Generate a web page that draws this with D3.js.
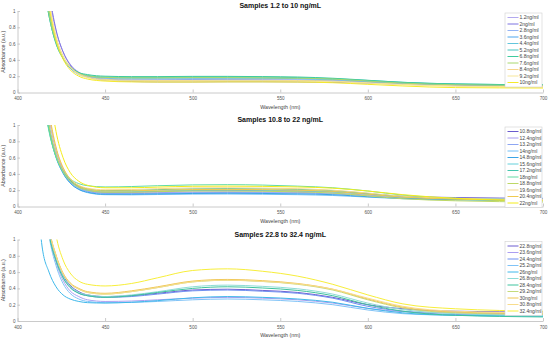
<!DOCTYPE html>
<html>
<head>
<meta charset="utf-8">
<script src="https://cdn.jsdelivr.net/npm/d3@7"></script>
<style>
  body { margin: 0; background: #fff; }
  svg { display: block; font-family: "Liberation Sans", Arial, sans-serif; }
</style>
</head>
<body>
<svg id="chart"></svg>
<script>
const width = 550;
const height = 339;

const wavelengths = [410, 414, 418, 422, 426, 430, 435, 440, 450, 465, 480, 500, 520, 540, 560, 580, 600, 620, 650, 700];
const xTicks = [400, 450, 500, 550, 600, 650, 700];
const yTicks = [0, 0.2, 0.4, 0.6, 0.8, 1];

const titles = ["Samples 1.2 to 10 ng/mL", "Samples 10.8 to 22 ng/mL", "Samples 22.8 to 32.4 ng/mL"];

// panel 1
const labels1 = ["1.2ng/ml", "2ng/ml", "2.8ng/ml", "3.6ng/ml", "4.4ng/ml", "5.2ng/ml", "6.8ng/ml", "7.6ng/ml", "8.4ng/ml", "9.2ng/ml", "10ng/ml"];
const colors1 = ["#b3a9ee", "#7d72e0", "#94b4f5", "#4da6ee", "#62c6dc", "#47c4bf", "#3fcb9e", "#a8d86e", "#f6d58c", "#f7e79a", "#f5ea2a"];
const values1 = [
  [3.4, 2.0, 1.2, 0.76, 0.5, 0.35, 0.25, 0.2, 0.165, 0.155, 0.155, 0.16, 0.16, 0.158, 0.155, 0.15, 0.13, 0.11, 0.095, 0.085],
  [3.6, 2.1, 1.26, 0.77, 0.5, 0.34, 0.24, 0.19, 0.15, 0.135, 0.13, 0.13, 0.132, 0.132, 0.13, 0.125, 0.115, 0.1, 0.09, 0.08],
  [2.6, 1.65, 1.0, 0.64, 0.43, 0.31, 0.23, 0.2, 0.175, 0.165, 0.165, 0.17, 0.17, 0.168, 0.165, 0.155, 0.135, 0.115, 0.1, 0.09],
  [2.6, 1.65, 1.0, 0.63, 0.42, 0.3, 0.22, 0.19, 0.16, 0.15, 0.15, 0.152, 0.152, 0.15, 0.148, 0.14, 0.125, 0.105, 0.095, 0.085],
  [2.5, 1.6, 0.97, 0.62, 0.43, 0.31, 0.235, 0.205, 0.18, 0.175, 0.175, 0.178, 0.178, 0.175, 0.17, 0.16, 0.14, 0.12, 0.1, 0.09],
  [2.4, 1.5, 0.94, 0.6, 0.42, 0.31, 0.24, 0.21, 0.19, 0.185, 0.185, 0.19, 0.19, 0.188, 0.183, 0.17, 0.148, 0.125, 0.105, 0.095],
  [2.4, 1.5, 0.94, 0.6, 0.42, 0.32, 0.245, 0.22, 0.2, 0.195, 0.195, 0.198, 0.198, 0.195, 0.19, 0.175, 0.15, 0.125, 0.105, 0.095],
  [2.5, 1.6, 0.97, 0.62, 0.42, 0.31, 0.235, 0.205, 0.185, 0.18, 0.18, 0.183, 0.183, 0.18, 0.175, 0.165, 0.14, 0.115, 0.095, 0.085],
  [3.0, 1.85, 1.12, 0.69, 0.45, 0.32, 0.23, 0.19, 0.16, 0.15, 0.148, 0.148, 0.15, 0.15, 0.147, 0.14, 0.12, 0.1, 0.08, 0.07],
  [3.0, 1.85, 1.12, 0.68, 0.44, 0.31, 0.22, 0.18, 0.15, 0.14, 0.14, 0.14, 0.142, 0.142, 0.14, 0.132, 0.115, 0.095, 0.075, 0.065],
  [2.8, 1.75, 1.06, 0.64, 0.41, 0.28, 0.2, 0.165, 0.14, 0.13, 0.128, 0.128, 0.13, 0.13, 0.128, 0.12, 0.1, 0.08, 0.06, 0.055]
];

// panel 2
const labels2 = ["10.8ng/ml", "12.4ng/ml", "13.2ng/ml", "14ng/ml", "14.8ng/ml", "15.6ng/ml", "17.2ng/ml", "18ng/ml", "18.8ng/ml", "19.6ng/ml", "20.4ng/ml", "22ng/ml"];
const colors2 = ["#6a5acd", "#a99cf0", "#8ea6f2", "#72bff6", "#3aa4e6", "#64d0da", "#45c6ae", "#62dba3", "#bdd865", "#f5d68e", "#efc94f", "#f4ec1a"];
const values2 = [
  [3.0, 1.85, 1.12, 0.7, 0.46, 0.33, 0.24, 0.2, 0.175, 0.175, 0.185, 0.195, 0.198, 0.195, 0.19, 0.18, 0.155, 0.125, 0.11, 0.1],
  [3.0, 1.85, 1.12, 0.69, 0.45, 0.32, 0.23, 0.19, 0.165, 0.165, 0.17, 0.178, 0.18, 0.178, 0.173, 0.163, 0.14, 0.115, 0.1, 0.095],
  [2.6, 1.65, 1.0, 0.63, 0.42, 0.3, 0.22, 0.185, 0.16, 0.158, 0.163, 0.17, 0.172, 0.17, 0.165, 0.155, 0.13, 0.105, 0.09, 0.085],
  [2.6, 1.65, 1.0, 0.62, 0.41, 0.29, 0.21, 0.17, 0.145, 0.143, 0.147, 0.152, 0.153, 0.15, 0.145, 0.135, 0.115, 0.095, 0.08, 0.075],
  [2.5, 1.6, 0.97, 0.61, 0.41, 0.29, 0.21, 0.175, 0.15, 0.15, 0.155, 0.16, 0.162, 0.16, 0.155, 0.145, 0.12, 0.1, 0.085, 0.08],
  [2.4, 1.5, 0.94, 0.6, 0.42, 0.31, 0.235, 0.2, 0.18, 0.182, 0.19, 0.198, 0.2, 0.198, 0.19, 0.178, 0.15, 0.12, 0.1, 0.09],
  [2.4, 1.5, 0.94, 0.61, 0.43, 0.32, 0.25, 0.215, 0.195, 0.198, 0.207, 0.217, 0.22, 0.217, 0.21, 0.195, 0.16, 0.12, 0.09, 0.07],
  [2.3, 1.45, 0.92, 0.61, 0.44, 0.34, 0.28, 0.255, 0.24, 0.245, 0.255, 0.265, 0.268, 0.263, 0.25, 0.23, 0.19, 0.14, 0.1, 0.08],
  [2.6, 1.65, 1.0, 0.64, 0.43, 0.31, 0.235, 0.2, 0.175, 0.175, 0.182, 0.19, 0.19, 0.187, 0.18, 0.165, 0.13, 0.095, 0.07, 0.055],
  [3.0, 1.85, 1.12, 0.71, 0.47, 0.34, 0.26, 0.225, 0.205, 0.208, 0.218, 0.228, 0.23, 0.226, 0.218, 0.2, 0.165, 0.125, 0.1, 0.085],
  [3.2, 1.95, 1.18, 0.73, 0.48, 0.34, 0.25, 0.215, 0.19, 0.192, 0.2, 0.208, 0.21, 0.207, 0.2, 0.185, 0.15, 0.115, 0.09, 0.075],
  [4.0, 2.5, 1.5, 0.92, 0.6, 0.42, 0.31, 0.26, 0.23, 0.23, 0.238, 0.248, 0.25, 0.247, 0.24, 0.225, 0.19, 0.145, 0.1, 0.07]
];

// panel 3
const labels3 = ["22.8ng/ml", "23.6ng/ml", "24.4ng/ml", "25.2ng/ml", "26ng/ml", "26.8ng/ml", "28.4ng/ml", "29.2ng/ml", "30ng/ml", "30.8ng/ml", "32.4ng/ml"];
const colors3 = ["#6c5ccf", "#ab9ef1", "#6f8ff0", "#80c3f7", "#3fb8ea", "#8fdcd6", "#3fc39e", "#c5da7a", "#f0c653", "#f8dc8c", "#f7ee3a"];
const values3 = [
  [3.2, 2.0, 1.15, 0.78, 0.56, 0.44, 0.36, 0.32, 0.3, 0.31, 0.34, 0.38, 0.39, 0.375, 0.35, 0.29, 0.2, 0.15, 0.12, 0.11],
  [3.0, 1.9, 1.1, 0.72, 0.5, 0.37, 0.3, 0.26, 0.24, 0.245, 0.26, 0.28, 0.29, 0.28, 0.26, 0.22, 0.155, 0.115, 0.1, 0.09],
  [3.0, 1.9, 1.12, 0.76, 0.54, 0.42, 0.34, 0.31, 0.29, 0.3, 0.33, 0.37, 0.38, 0.365, 0.34, 0.28, 0.18, 0.12, 0.08, 0.07],
  [2.8, 1.8, 1.05, 0.68, 0.46, 0.34, 0.27, 0.24, 0.225, 0.228, 0.24, 0.26, 0.27, 0.26, 0.24, 0.2, 0.135, 0.09, 0.07, 0.06],
  [1.9, 0.92, 0.6, 0.42, 0.32, 0.27, 0.24, 0.225, 0.22, 0.23, 0.25, 0.285, 0.3, 0.29, 0.27, 0.23, 0.155, 0.1, 0.07, 0.06],
  [3.0, 1.9, 1.12, 0.77, 0.55, 0.43, 0.35, 0.32, 0.3, 0.32, 0.36, 0.42, 0.44, 0.425, 0.395, 0.33, 0.22, 0.14, 0.09, 0.07],
  [2.8, 1.8, 1.07, 0.74, 0.53, 0.41, 0.34, 0.31, 0.29, 0.31, 0.35, 0.4, 0.42, 0.405, 0.375, 0.31, 0.2, 0.12, 0.07, 0.05],
  [3.0, 1.9, 1.14, 0.8, 0.58, 0.46, 0.39, 0.35, 0.33, 0.36, 0.41, 0.48, 0.5, 0.485, 0.45, 0.38, 0.26, 0.16, 0.1, 0.08],
  [3.0, 1.9, 1.15, 0.81, 0.59, 0.47, 0.4, 0.36, 0.34, 0.37, 0.42, 0.49, 0.51, 0.495, 0.46, 0.39, 0.27, 0.17, 0.11, 0.09],
  [3.1, 1.95, 1.16, 0.8, 0.58, 0.46, 0.39, 0.35, 0.33, 0.36, 0.41, 0.48, 0.5, 0.485, 0.455, 0.39, 0.28, 0.18, 0.12, 0.1],
  [4.2, 2.7, 1.65, 1.05, 0.75, 0.59, 0.49, 0.45, 0.43, 0.46, 0.53, 0.62, 0.64, 0.61, 0.55, 0.45, 0.32, 0.21, 0.15, 0.12]
];

const panels = [
  { title: titles[0], labels: labels1, colors: colors1, values: values1 },
  { title: titles[1], labels: labels2, colors: colors2, values: values2 },
  { title: titles[2], labels: labels3, colors: colors3, values: values3 }
];

const svg = d3.select("#chart").attr("width", width).attr("height", height);

const panelOffsets = [0, 114, 228.5];
const plotTop = 11;
const plotH = 81.5;
const x = d3.scaleLinear().domain([400, 700]).range([17.5, 543]);
const axisColor = "#bdbdbd";

panels.forEach((p, i) => {
  const g = svg.append("g").attr("transform", `translate(0, ${panelOffsets[i]})`);
  const y = d3.scaleLinear().domain([0, 1]).range([plotTop + plotH, plotTop]);

  g.append("text")
    .attr("x", (x.range()[0] + x.range()[1]) / 2)
    .attr("y", 8.3)
    .attr("text-anchor", "middle")
    .attr("font-size", "7px")
    .attr("font-weight", "bold")
    .attr("fill", "#111")
    .text(p.title);

  // clip to axes area
  g.append("clipPath").attr("id", "clip" + i)
    .append("rect")
    .attr("x", x.range()[0]).attr("y", plotTop)
    .attr("width", x.range()[1] - x.range()[0]).attr("height", plotH);

  const line = d3.line()
    .x((d, j) => x(wavelengths[j]))
    .y(d => y(d))
    .curve(d3.curveMonotoneX);

  g.append("g").attr("clip-path", `url(#clip${i})`)
    .selectAll("path")
    .data(p.values)
    .join("path")
    .attr("d", line)
    .attr("fill", "none")
    .attr("stroke", (d, j) => p.colors[j])
    .attr("stroke-width", 1);

  // axes
  const xAxis = d3.axisBottom(x).tickValues(xTicks).tickSizeInner(-3).tickSizeOuter(0).tickPadding(4.5);
  const gx = g.append("g").attr("transform", `translate(0, ${plotTop + plotH})`).call(xAxis);
  const yAxis = d3.axisLeft(y).tickValues(yTicks).tickSizeInner(-2.5).tickSizeOuter(0).tickPadding(2)
    .tickFormat(d => d === 0 ? "0" : d === 1 ? "1" : d3.format(".1f")(d));
  const gy = g.append("g").attr("transform", `translate(${x.range()[0]}, 0)`).call(yAxis);

  [gx, gy].forEach(a => {
    a.select(".domain").attr("stroke", axisColor).attr("stroke-width", 0.8);
    a.selectAll(".tick line").attr("stroke", axisColor).attr("stroke-width", 0.8);
    a.selectAll(".tick text").attr("fill", "#555").attr("font-size", "4.6px")
      .attr("font-family", "Liberation Sans, Arial, sans-serif");
  });

  g.append("text")
    .attr("x", (x.range()[0] + x.range()[1]) / 2)
    .attr("y", plotTop + plotH + 16)
    .attr("text-anchor", "middle")
    .attr("font-size", "5.3px")
    .attr("fill", "#444")
    .text("Wavelength (nm)");

  g.append("text")
    .attr("transform", `translate(5, ${plotTop + plotH / 2}) rotate(-90)`)
    .attr("text-anchor", "middle")
    .attr("font-size", "5.3px")
    .attr("fill", "#444")
    .text("Absorbance (a.u.)");

  // legend
  const rowH = 6.5;
  const legTop = plotTop + 2;
  const legX = 505;
  const leg = g.append("g");
  leg.append("rect")
    .attr("x", legX).attr("y", legTop)
    .attr("width", 37).attr("height", p.labels.length * rowH + 2.5)
    .attr("fill", "#fff")
    .attr("stroke", "#d0d0d0")
    .attr("stroke-width", 0.6);

  const rows = leg.selectAll("g.row")
    .data(p.labels)
    .join("g")
    .attr("class", "row")
    .attr("transform", (d, j) => `translate(${legX}, ${legTop + 4.5 + j * rowH})`);
  rows.append("line")
    .attr("x1", 2.5).attr("x2", 13.5)
    .attr("stroke", (d, j) => p.colors[j])
    .attr("stroke-width", 1);
  rows.append("text")
    .attr("x", 14.5).attr("y", 1.8)
    .attr("font-size", "5px")
    .attr("fill", "#444")
    .text(d => d);
});
</script>
</body>
</html>
